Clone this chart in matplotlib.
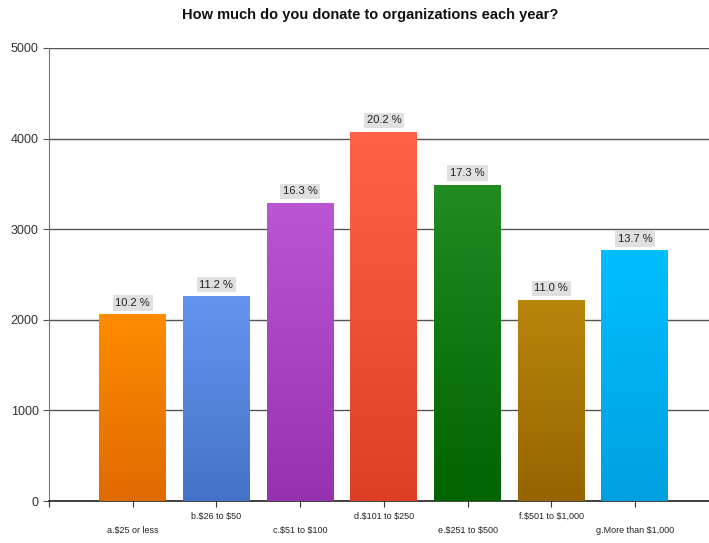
import numpy as np
import matplotlib.pyplot as plt
from matplotlib.colors import LinearSegmentedColormap

# survey answers per bracket
categories = ["a.\\$25 or less", "b.\\$26 to \\$50", "c.\\$51 to \\$100", "d.\\$101 to \\$250",
              "e.\\$251 to \\$500", "f.\\$501 to \\$1,000", "g.More than \\$1,000"]
counts = [2055, 2257, 3285, 4070, 3486, 2216, 2760]
top_colors = ["#FF8C00", "#6495ED", "#BA55D3", "#FF6347", "#228B22", "#B8860B", "#00BFFF"]
bottom_colors = ["#E06A00", "#4472C8", "#9632B0", "#DC4024", "#006400", "#966400", "#00A0E0"]

plt.rcParams["font.family"] = ["Liberation Sans", "DejaVu Sans"]

fig = plt.figure(figsize=(7.09, 5.43), dpi=100)
ax = fig.add_axes([49 / 709, 1 - 501 / 543, 1 - 49 / 709, (501 - 48) / 543])

total = sum(counts)
x = np.arange(1, len(counts) + 1)
width = 0.8

ax.set_xlim(0, 7.885)
ax.set_ylim(0, 5000)

# gradient filled bars
grad = np.linspace(0, 1, 256).reshape(-1, 1)
for xi, val, c_top, c_bot in zip(x, counts, top_colors, bottom_colors):
    cmap = LinearSegmentedColormap.from_list("bar", [c_bot, c_top])
    left, right = xi - width / 2, xi + width / 2
    ax.imshow(grad, cmap=cmap, aspect="auto", origin="lower", interpolation="bilinear",
              extent=(left, right, 0, val), zorder=3)
    pct = val / total * 100
    ax.annotate(f"{pct:.1f} %", xy=(xi, val), xytext=(0, 5), textcoords="offset points",
                ha="center", va="bottom", fontsize=8, color="#202020", zorder=5,
                bbox=dict(boxstyle="square,pad=0.25", facecolor="#E0E0E0", edgecolor="none"))

ax.set_aspect("auto")

# grid and axes
ax.set_yticks(np.arange(0, 5001, 1000))
ax.yaxis.grid(True, color="#555555", linewidth=1.0, zorder=0)
ax.set_axisbelow(True)
ax.tick_params(axis="y", length=4, color="#555555", labelsize=9, labelcolor="#333333")

ax.set_xticks(np.arange(0, 8))
ax.set_xticklabels([""] * 8)
ax.tick_params(axis="x", length=4, color="#333333")
for i, (xi, name) in enumerate(zip(x, categories)):
    offset = -11 if i % 2 == 1 else -21.5
    ax.annotate(name, xy=(xi, 0), xytext=(0, offset), textcoords="offset points",
                ha="center", va="center", fontsize=6.5, color="#222222",
                annotation_clip=False)

for side in ["top", "right"]:
    ax.spines[side].set_visible(False)
ax.spines["left"].set_color("#777777")
ax.spines["bottom"].set_color("#222222")
ax.spines["bottom"].set_linewidth(1.2)

fig.text(0.522, 0.972, "How much do you donate to organizations each year?",
         ha="center", va="center", fontsize=10.5, fontweight="bold", color="#111111")

fig.savefig("out.png", dpi=100)
